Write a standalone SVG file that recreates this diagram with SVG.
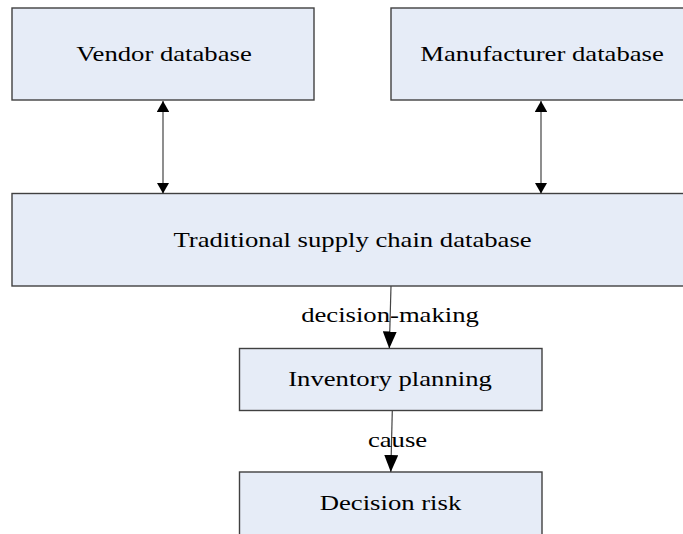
<svg xmlns="http://www.w3.org/2000/svg" width="683" height="534" viewBox="0 0 683 534">
  <style>
    .box { fill: #E6ECF7; stroke: #404040; stroke-width: 1.4; }
    .lbl { font-family: 'Liberation Serif', serif; font-size: 21px; fill: #000; text-anchor: middle; }
    .conn { stroke: #444; stroke-width: 1.2; fill: none; }
  </style>
  <defs>
    <marker id="headS" viewBox="0 0 11 12.7" refX="11" refY="6.35" markerWidth="11" markerHeight="12.7" markerUnits="userSpaceOnUse" orient="auto-start-reverse">
      <path d="M0,0 L11,6.35 L0,12.7 z" fill="#000"/>
    </marker>
    <marker id="headL" viewBox="0 0 17 14" refX="17" refY="7" markerWidth="17" markerHeight="14" markerUnits="userSpaceOnUse" orient="auto">
      <path d="M0,0 L17,7 L0,14 z" fill="#000"/>
    </marker>
  </defs>
  <rect width="683" height="534" fill="#fff"/>

  <g id="vendor">
    <rect class="box" x="12" y="8" width="302" height="92"/>
    <text class="lbl" transform="translate(164,61) scale(1.27,1)">Vendor database</text>
  </g>
  <g id="manufacturer">
    <rect class="box" x="391" y="8" width="302" height="92"/>
    <text class="lbl" transform="translate(542,61) scale(1.27,1)">Manufacturer database</text>
  </g>
  <g id="traditional">
    <rect class="box" x="12" y="193.5" width="681" height="92.5"/>
    <text class="lbl" transform="translate(352.5,247) scale(1.27,1)">Traditional supply chain database</text>
  </g>
  <g id="inventory">
    <rect class="box" x="239.5" y="348.5" width="302.5" height="62"/>
    <text class="lbl" transform="translate(390,385.5) scale(1.27,1)">Inventory planning</text>
  </g>
  <g id="risk">
    <rect class="box" x="239.5" y="472" width="302.5" height="80"/>
    <text class="lbl" transform="translate(390.5,510) scale(1.27,1)">Decision risk</text>
  </g>

  <g id="connectors">
    <line class="conn" x1="163" y1="101" x2="163" y2="193.5" marker-start="url(#headS)" marker-end="url(#headS)"/>
    <line class="conn" x1="541" y1="101" x2="541" y2="193.5" marker-start="url(#headS)" marker-end="url(#headS)"/>
    <line class="conn" x1="391" y1="286" x2="389.3" y2="348.5" stroke="#000" marker-end="url(#headL)"/>
    <line class="conn" x1="392.3" y1="410.5" x2="390.8" y2="472" stroke="#000" marker-end="url(#headL)"/>
    <text class="lbl" transform="translate(390,322) scale(1.27,1)">decision-making</text>
    <text class="lbl" transform="translate(397.5,447) scale(1.27,1)">cause</text>
  </g>
</svg>
